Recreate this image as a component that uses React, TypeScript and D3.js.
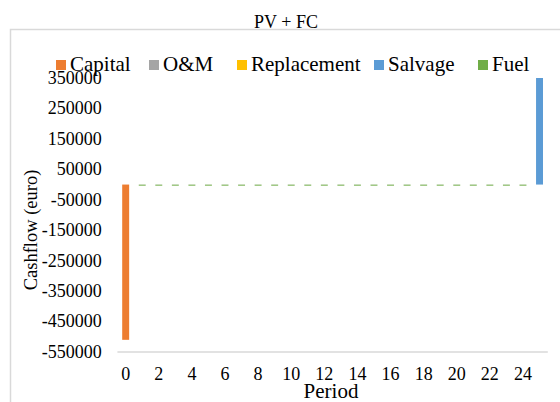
import React from "react";
import * as d3 from "d3";

const periods = [0, 1, 2, 3, 4, 5, 6, 7, 8, 9, 10, 11, 12, 13, 14, 15, 16, 17, 18, 19, 20, 21, 22, 23, 24, 25];
const capital = [-510000, 0, 0, 0, 0, 0, 0, 0, 0, 0, 0, 0, 0, 0, 0, 0, 0, 0, 0, 0, 0, 0, 0, 0, 0, 0];
const om = [0, -400, -400, -400, -400, -400, -400, -400, -400, -400, -400, -400, -400, -400, -400, -400, -400, -400, -400, -400, -400, -400, -400, -400, -400, 0];
const replacement = [0, 0, 0, 0, 0, 0, 0, 0, 0, 0, 0, 0, 0, 0, 0, 0, 0, 0, 0, 0, 0, 0, 0, 0, 0, 0];
const salvage = [0, 0, 0, 0, 0, 0, 0, 0, 0, 0, 0, 0, 0, 0, 0, 0, 0, 0, 0, 0, 0, 0, 0, 0, 0, 350000];
const fuel = [0, -3200, -3200, -3200, -3200, -3200, -3200, -3200, -3200, -3200, -3200, -3200, -3200, -3200, -3200, -3200, -3200, -3200, -3200, -3200, -3200, -3200, -3200, -3200, -3200, 0];

const seriesNames = ["Capital", "O&M", "Replacement", "Salvage", "Fuel"];
const seriesColors = ["#ED7D31", "#A5A5A5", "#FFC000", "#5B9BD5", "#70AD47"];
const yTicks = [350000, 250000, 150000, 50000, -50000, -150000, -250000, -350000, -450000, -550000];
const xTickLabels = [0, 2, 4, 6, 8, 10, 12, 14, 16, 18, 20, 22, 24];
const legendX = [56, 149, 237, 374, 478];

const FONT = "'Liberation Serif', 'DejaVu Serif', serif";
const tx = (size: number): React.CSSProperties => ({ fontFamily: FONT, fontSize: size });

export default function App() {
  const seriesValues = [capital, om, replacement, salvage, fuel];
  const table = periods.map((p, i) => {
    const row: Record<string, number> = { period: p };
    seriesNames.forEach((n, k) => (row[n] = seriesValues[k][i]));
    return row;
  });
  const stacked = d3
    .stack<Record<string, number>>()
    .keys(seriesNames)
    .offset(d3.stackOffsetDiverging)(table);

  const x = d3
    .scaleBand<number>()
    .domain(periods)
    .range([117.4, 547.8])
    .paddingInner(0.58)
    .paddingOuter(0.29);
  const y = d3.scaleLinear().domain([-550000, 350000]).range([352, 78]);

  return (
    <svg
      width={560}
      height={402}
      style={{ position: "absolute", left: 0, top: 0, background: "#fff" }}
    >
      <rect x={0} y={0} width={560} height={402} fill="#fff" />
      <rect x={10.5} y={29.5} width={600} height={420} fill="none" stroke="#d9d9d9" strokeWidth={1.5} />
      <text x={286} y={28} textAnchor="middle" style={tx(18)} fill="#000">
        PV + FC
      </text>

      {/* bottom axis line */}
      <line x1={117.4} x2={547.8} y1={y(-550000)} y2={y(-550000)} stroke="#d9d9d9" strokeWidth={1.5} />

      {/* y tick labels */}
      {yTicks.map((t) => (
        <text key={t} x={101.7} y={y(t)} dy="0.33em" textAnchor="end" style={tx(18)} fill="#000">
          {t}
        </text>
      ))}

      {/* x tick labels */}
      {xTickLabels.map((t) => (
        <text key={t} x={(x(t) as number) + x.bandwidth() / 2} y={380} textAnchor="middle" style={tx(18)} fill="#000">
          {t}
        </text>
      ))}

      {/* bars */}
      {stacked.map((s, k) => (
        <g key={s.key} fill={seriesColors[k]}>
          {s.map((d, i) => {
            const y0 = y(d[0]);
            const y1 = y(d[1]);
            const h = Math.abs(y0 - y1);
            if (h === 0) return null;
            return (
              <rect
                key={i}
                x={x(periods[i]) as number}
                y={Math.min(y0, y1)}
                width={x.bandwidth()}
                height={h}
              />
            );
          })}
        </g>
      ))}

      {/* axis titles */}
      <text x={331} y={398} textAnchor="middle" style={tx(21)} fill="#000">
        Period
      </text>
      <text transform="translate(37,230) rotate(-90)" textAnchor="middle" style={tx(18.5)} fill="#000">
        Cashflow (euro)
      </text>

      {/* legend */}
      {seriesNames.map((n, k) => (
        <g key={n}>
          <rect x={legendX[k]} y={60} width={10} height={10} fill={seriesColors[k]} />
          <text x={legendX[k] + 14} y={71} style={tx(21)} fill="#000">
            {n}
          </text>
        </g>
      ))}
    </svg>
  );
}
